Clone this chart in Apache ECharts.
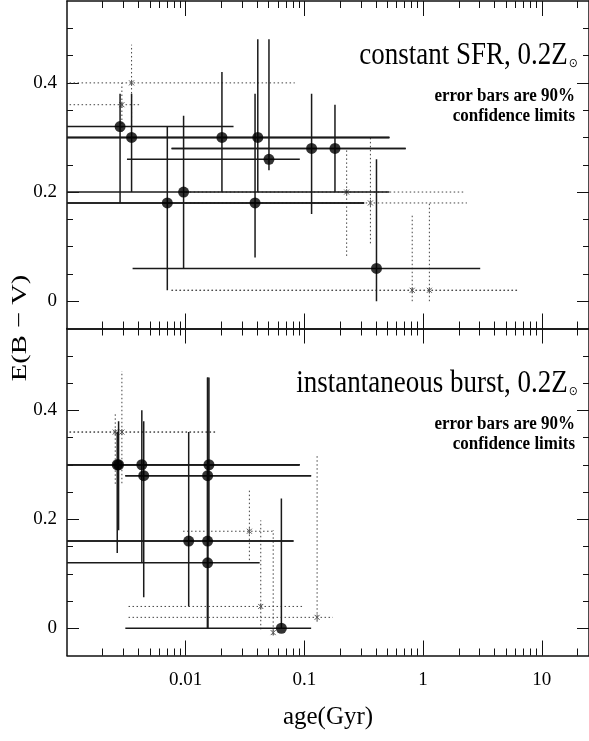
<!DOCTYPE html>
<html>
<head>
<meta charset="utf-8">
<script src="https://cdn.jsdelivr.net/npm/echarts@6/dist/echarts.min.js"></script>
<style>
  html, body { margin: 0; padding: 0; background: #fff; }
  #chart { width: 589px; height: 741px; }
</style>
</head>
<body>
<div id="chart"></div>
<script>
// top panel: constant SFR, points with 90% error bars
var topAge     = [0.0028, 0.0035, 0.0202, 0.0405, 0.0503, 0.115, 0.181, 0.0070, 0.0096, 0.0384, 0.405];
var topEbv     = [0.32, 0.30, 0.30, 0.30, 0.26, 0.28, 0.28, 0.18, 0.20, 0.18, 0.06];
var topAgeLo   = [0.0009, 0.0009, 0.0009, 0.0009, 0.0032, 0.0076, 0.0076, 0.0009, 0.0009, 0.0009, 0.00357];
var topAgeHi   = [0.0253, 0.52, 0.52, 0.52, 0.0915, 0.714, 0.714, 0.319, 0.52, 0.319, 3.03];
var topEbvLo   = [0.18, 0.20, 0.20, 0.20, 0.24, 0.16, 0.20, 0.02, 0.06, 0.08, 0.0];
var topEbvHi   = [0.38, 0.38, 0.42, 0.48, 0.48, 0.38, 0.36, 0.32, 0.34, 0.38, 0.26];

// top panel dotted fits
var topDotAge   = [0.0035, 0.0029, 0.227, 0.36, 0.81, 1.13];
var topDotEbv   = [0.40, 0.36, 0.20, 0.18, 0.02, 0.02];
var topDotAgeLo = [0.0009, 0.0009, 0.01, 0.01, 0.0076, 0.0076];
var topDotAgeHi = [0.083, 0.00424, 2.19, 2.34, 6.5, 6.5];
var topDotEbvLo = [0.30, 0.31, 0.083, 0.106, 0.0, 0.0];
var topDotEbvHi = [0.47, 0.40, 0.28, 0.30, 0.16, 0.18];

// bottom panel: instantaneous burst
var botAge   = [0.00272, 0.00265, 0.00427, 0.00443, 0.0157, 0.0153, 0.0106, 0.0153, 0.0153, 0.064];
var botEbv   = [0.30, 0.30, 0.30, 0.28, 0.30, 0.28, 0.16, 0.16, 0.12, 0.0];
var botAgeLo = [0.0009, 0.0009, 0.0009, 0.0031, 0.0009, 0.0031, 0.0009, 0.0009, 0.0009, 0.0031];
var botAgeHi = [0.091, 0.091, 0.091, 0.114, 0.091, 0.114, 0.081, 0.081, 0.042, 0.114];
var botEbvLo = [0.18, 0.138, 0.12, 0.057, 0.16, 0.0, 0.04, 0.0, 0.0, 0.0];
var botEbvHi = [0.38, 0.36, 0.40, 0.38, 0.46, 0.46, 0.36, 0.46, 0.30, 0.238];

var botDotAge   = [0.0029, 0.00255, 0.0344, 0.0429, 0.0546, 0.128];
var botDotEbv   = [0.36, 0.36, 0.178, 0.04, -0.008, 0.02];
var botDotAgeLo = [0.0009, 0.0009, 0.0095, 0.0033, 0.0546, 0.0033];
var botDotAgeHi = [0.0177, 0.0177, 0.0555, 0.1, 0.0546, 0.174];
var botDotEbvLo = [0.266, 0.265, 0.125, -0.002, -0.012, 0.012];
var botDotEbvHi = [0.472, 0.396, 0.254, 0.198, 0.18, 0.316];

// ticks
var xMajor = [0.01, 0.1, 1, 10];
var xLabels = [0.01, 0.1, 1, 10];
var yMajor = [0, 0.2, 0.4];
var yMinor = [0.05, 0.1, 0.15, 0.25, 0.3, 0.35, 0.45, 0.5];
var xMinor = [];
[0.001, 0.01, 0.1, 1, 10].forEach(function (d) {
	for (var k = 2; k <= 9; k++) {
		var v = +(d * k).toPrecision(3);
		if (v <= 25) xMinor.push(v);
	}
});

var FONT = 'Liberation Serif';

function rows(a, b, c, d, e, f) {
	return a.map(function (v, i) { return [v, b[i], c[i], d[i], e[i], f[i]]; });
}

function barRenderer(dotted) {
	return function (params, api) {
		var x = api.value(0), y = api.value(1);
		var p1 = api.coord([api.value(2), y]);
		var p2 = api.coord([api.value(3), y]);
		var p3 = api.coord([x, api.value(4)]);
		var p4 = api.coord([x, api.value(5)]);
		var style = dotted
			? { stroke: '#444', lineWidth: 1, lineDash: [1.5, 2.5] }
			: { stroke: '#1a1a1a', lineWidth: 1.5 };
		var children = [
			{ type: 'line', shape: { x1: p1[0], y1: p1[1], x2: p2[0], y2: p2[1] }, style: style },
			{ type: 'line', shape: { x1: p3[0], y1: p3[1], x2: p4[0], y2: p4[1] }, style: style }
		];
		if (dotted) {
			var c = api.coord([x, y]);
			var s = { stroke: '#555', lineWidth: 1 };
			children.push({ type: 'line', shape: { x1: c[0] - 2.5, y1: c[1] - 2.5, x2: c[0] + 2.5, y2: c[1] + 2.5 }, style: s });
			children.push({ type: 'line', shape: { x1: c[0] - 2.5, y1: c[1] + 2.5, x2: c[0] + 2.5, y2: c[1] - 2.5 }, style: s });
			children.push({ type: 'line', shape: { x1: c[0], y1: c[1] - 3, x2: c[0], y2: c[1] + 3 }, style: s });
		}
		return { type: 'group', children: children };
	};
}

function xAxes(grid, withLabels) {
	var out = [];
	['bottom', 'top'].forEach(function (pos) {
		[true, false].forEach(function (major) {
			var ax = {
				type: 'log', logBase: 10, gridIndex: grid, position: pos,
				min: 0.001, max: 25,
				splitLine: { show: false },
				axisLine: { show: major, onZero: false, lineStyle: { color: '#111', width: 1.5 } },
				axisTick: { show: true, inside: true, length: major ? 15 : 7,
					customValues: major ? xMajor : xMinor, lineStyle: { color: '#111', width: 1 } },
				axisLabel: { show: false }
			};
			if (major && pos === 'bottom' && withLabels) {
				ax.axisLabel = { show: true, customValues: xLabels, margin: 15,
					fontFamily: FONT, fontSize: 19, color: '#000',
					formatter: function (v) { return String(v); } };
				ax.name = 'age(Gyr)';
				ax.nameLocation = 'middle';
				ax.nameGap = 49;
				ax.nameTextStyle = { fontFamily: FONT, fontSize: 25, color: '#000' };
			}
			out.push(ax);
		});
	});
	return out;
}

function yAxes(grid) {
	var out = [];
	['left', 'right'].forEach(function (pos) {
		[true, false].forEach(function (major) {
			var ax = {
				type: 'value', gridIndex: grid, position: pos,
				min: -0.05, max: 0.55,
				splitLine: { show: false },
				axisLine: { show: major, onZero: false, lineStyle: { color: '#111', width: 1.5 } },
				axisTick: { show: true, inside: true, length: major ? 12 : 6,
					customValues: major ? yMajor : yMinor, lineStyle: { color: '#111', width: 1 } },
				axisLabel: { show: false }
			};
			if (major && pos === 'left') {
				ax.axisLabel = { show: true, customValues: yMajor, margin: 10,
					fontFamily: FONT, fontSize: 19, color: '#000',
					formatter: function (v) { return String(v); } };
			}
			out.push(ax);
		});
	});
	return out;
}

function panelSeries(xi, yi, solid, dots) {
	return [{
		type: 'custom', xAxisIndex: xi, yAxisIndex: yi, clip: true,
		renderItem: barRenderer(true), encode: { x: 0, y: 1 }, data: dots, z: 2
	}, {
		type: 'custom', xAxisIndex: xi, yAxisIndex: yi, clip: true,
		renderItem: barRenderer(false), encode: { x: 0, y: 1 }, data: solid, z: 3
	}, {
		type: 'scatter', xAxisIndex: xi, yAxisIndex: yi, symbol: 'circle', symbolSize: 11,
		itemStyle: { color: '#000' }, data: solid.map(function (r) { return [r[0], r[1]]; }), z: 4
	}];
}

function label(y, title) {
	return [{
		type: 'text', x: 578, y: y, scaleY: 1.15,
		style: { text: '{a|' + title + '}{s|⊙}', align: 'right', verticalAlign: 'middle', rich: {
			a: { fontFamily: FONT, fontSize: 27, fill: '#000' },
			s: { fontFamily: 'DejaVu Sans', fontSize: 11, fill: '#000', padding: [14, 0, 0, 1] }
		} }
	}, {
		type: 'text', x: 575, y: y + 40, scaleY: 1.15,
		style: { text: 'error bars are 90%', align: 'right', verticalAlign: 'middle',
			fontFamily: FONT, fontWeight: 'bold', fontSize: 17, fill: '#000' }
	}, {
		type: 'text', x: 575, y: y + 60, scaleY: 1.15,
		style: { text: 'confidence limits', align: 'right', verticalAlign: 'middle',
			fontFamily: FONT, fontWeight: 'bold', fontSize: 17, fill: '#000' }
	}];
}

var chart = echarts.init(document.getElementById('chart'));
var option = {
	animation: false,
	backgroundColor: '#fff',
	grid: [
		{ left: 67, top: 1, width: 525, height: 327.5 },
		{ left: 67, top: 328.5, width: 525, height: 327 }
	],
	xAxis: xAxes(0, false).concat(xAxes(1, true)),
	yAxis: yAxes(0).concat(yAxes(1)),
	series: panelSeries(0, 0,
			rows(topAge, topEbv, topAgeLo, topAgeHi, topEbvLo, topEbvHi),
			rows(topDotAge, topDotEbv, topDotAgeLo, topDotAgeHi, topDotEbvLo, topDotEbvHi))
		.concat(panelSeries(4, 4,
			rows(botAge, botEbv, botAgeLo, botAgeHi, botEbvLo, botEbvHi),
			rows(botDotAge, botDotEbv, botDotAgeLo, botDotAgeHi, botDotEbvLo, botDotEbvHi))),
	graphic: [{
		type: 'text', x: 20, y: 328, rotation: Math.PI / 2, scaleX: 1.3,
		style: { text: 'E(B − V)', fontFamily: FONT, fontSize: 22, fill: '#000',
			align: 'center', verticalAlign: 'middle' }
	}].concat(label(56, 'constant SFR, 0.2Z'), label(384, 'instantaneous burst, 0.2Z'))
};
chart.setOption(option);
</script>
</body>
</html>
